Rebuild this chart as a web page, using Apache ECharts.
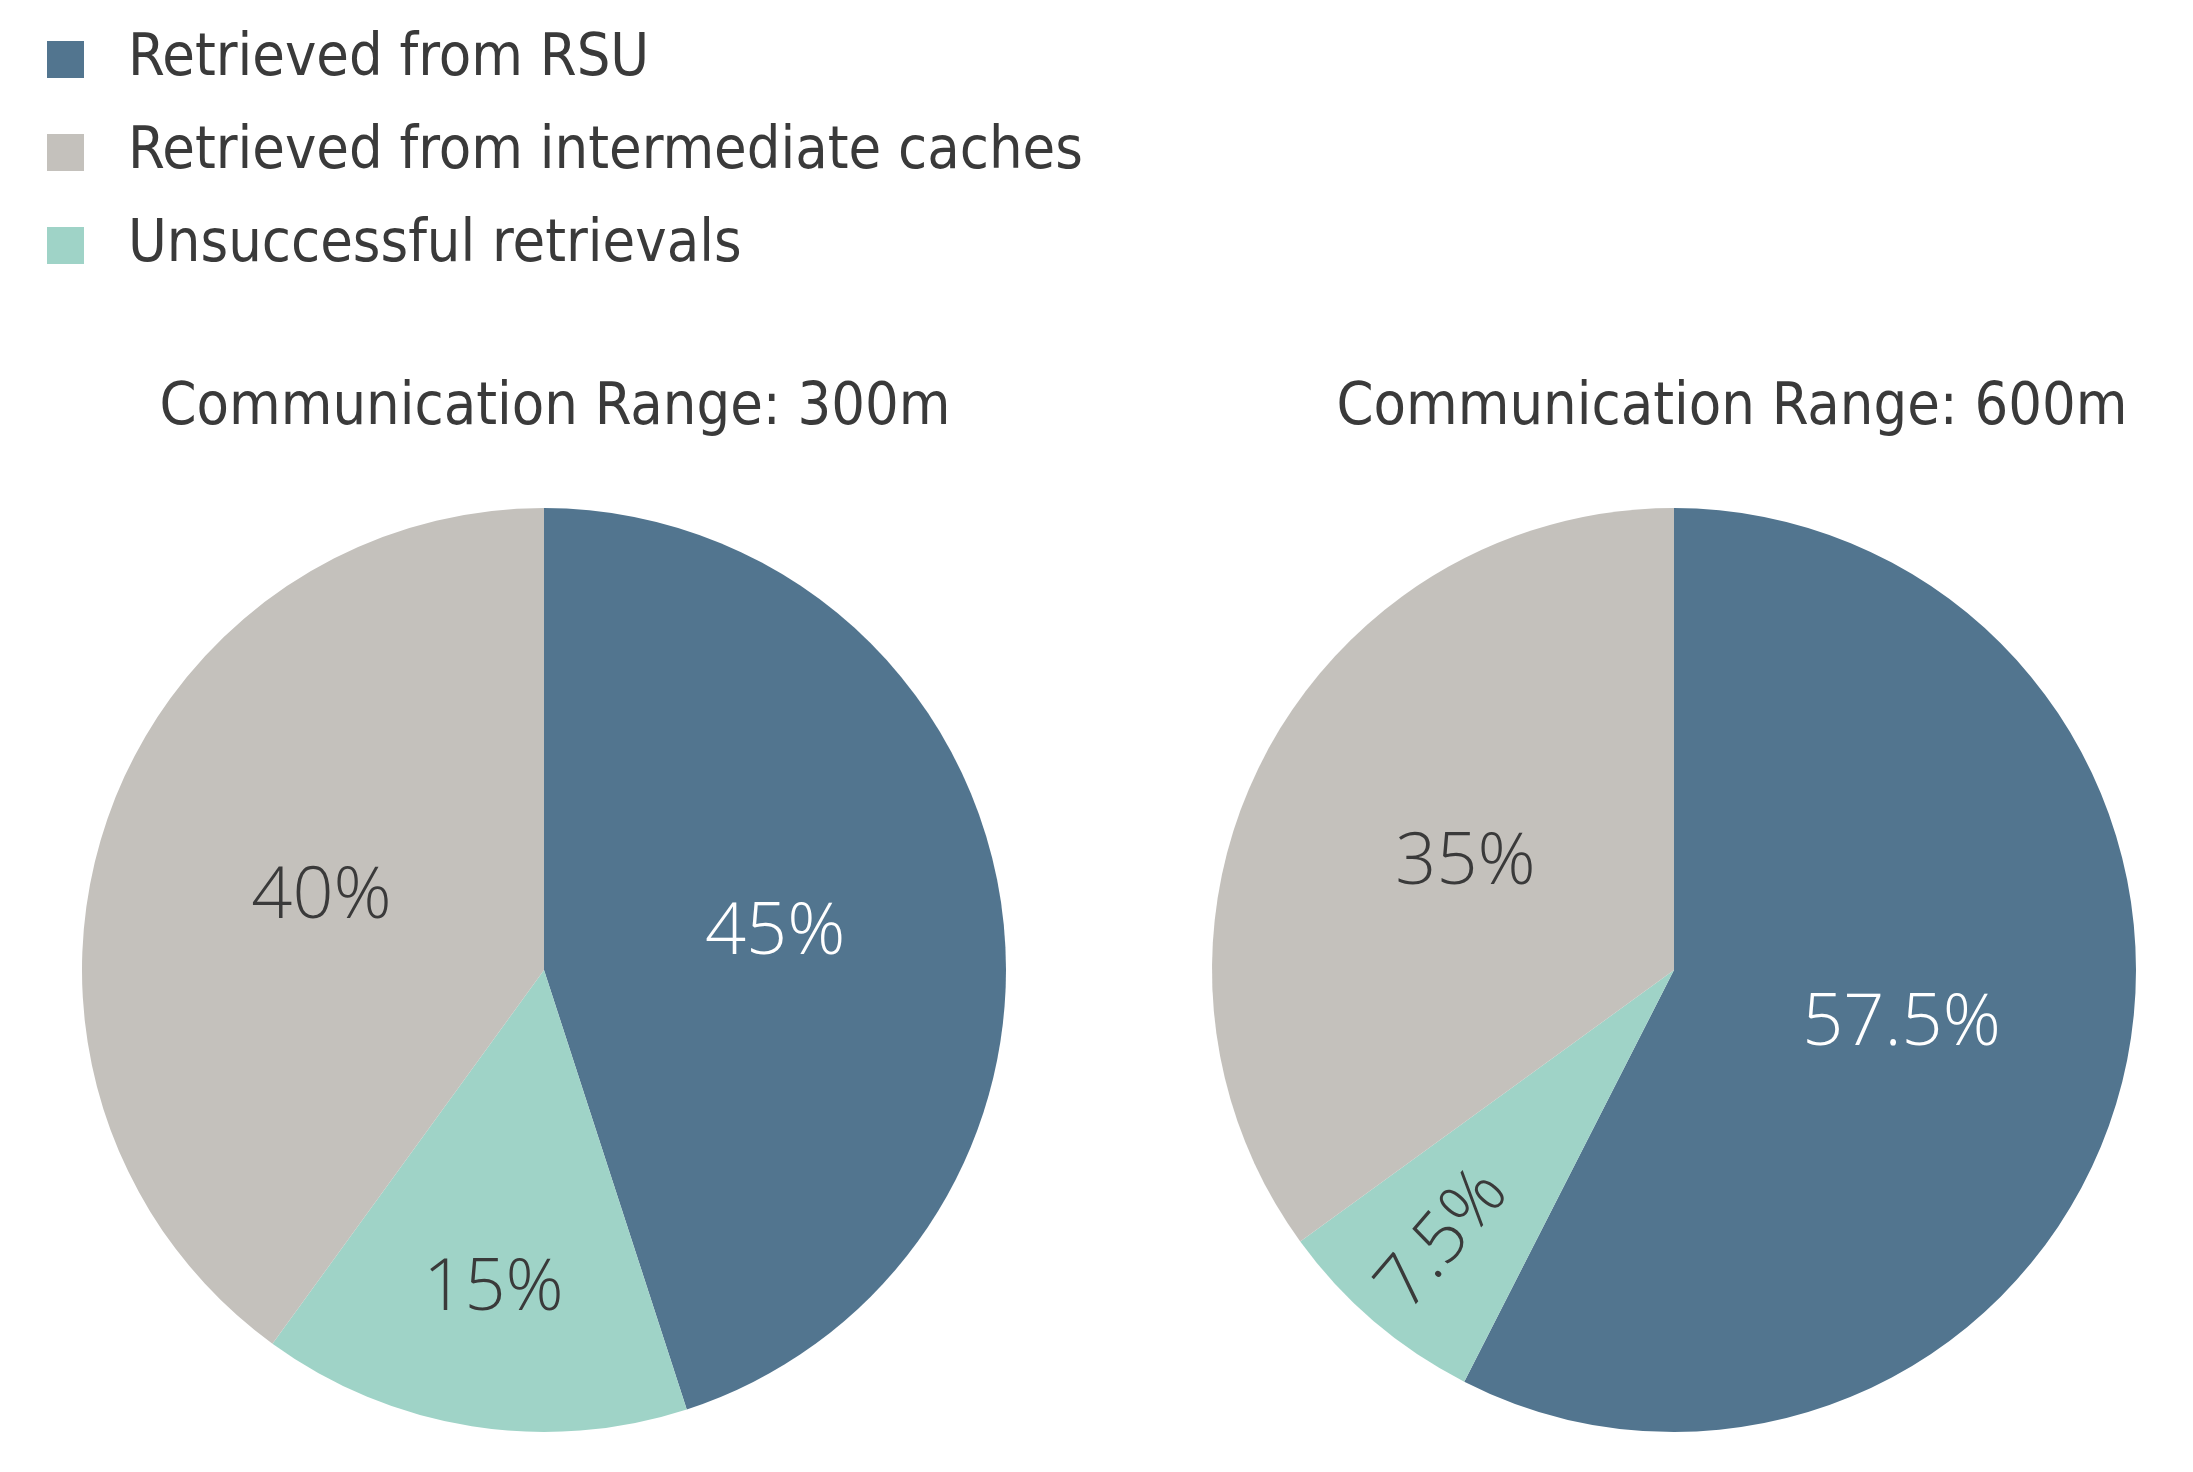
<!DOCTYPE html>
<html>
<head>
<meta charset="utf-8">
<script src="https://cdn.jsdelivr.net/npm/echarts@6/dist/echarts.min.js"></script>
<style>
html,body{margin:0;padding:0;background:#fff;}
#chart{width:2193px;height:1472px;}
</style>
</head>
<body>
<div id="chart"></div>
<script>
// ---- data ----
const categories = ['Retrieved from RSU', 'Retrieved from intermediate caches', 'Unsuccessful retrievals'];
const values300 = [45, 40, 15];
const values600 = [57.5, 35, 7.5];
const titles = ['Communication Range: 300m', 'Communication Range: 600m'];
const colors = ['#52758f', '#c4c1bc', '#9fd3c7'];
const labelColors = ['#ffffff', '#3a3a3a', '#3a3a3a'];
// clockwise drawing order from 12 o'clock: RSU, unsuccessful, intermediate
const pieOrder = [0, 2, 1];

const FONT = '"Liberation Sans Narrow", "DejaVu Sans Condensed", "Open Sans", sans-serif';
const LABEL_FONT = '"Open Sans", "Noto Sans", sans-serif';
const LABEL_SIZE = 72;

function pieData(values, small, hidden) {
  return pieOrder.map(i => ({
    name: categories[i],
    value: values[i],
    itemStyle: { color: hidden ? 'rgba(0,0,0,0)' : colors[i] },
    label: { show: small ? values[i] < 20 : values[i] >= 20, color: labelColors[i] }
  }));
}

function mainPie(values, center) {
  return {
    type: 'pie',
    center: center,
    radius: [0, 462],
    startAngle: 90,
    clockwise: true,
    silent: true,
    animation: false,
    label: {
      position: 'inside',
      formatter: '{c}%',
      fontFamily: LABEL_FONT,
      fontWeight: 300,
      fontSize: LABEL_SIZE
    },
    labelLine: { show: false },
    data: pieData(values, false, false)
  };
}

function labelPie(values, center, radius, rotateSmall) {
  return {
    type: 'pie',
    center: center,
    radius: radius,
    startAngle: 90,
    clockwise: true,
    silent: true,
    animation: false,
    legendHoverLink: false,
    label: {
      position: 'inside',
      formatter: '{c}%',
      fontFamily: LABEL_FONT,
      fontWeight: 300,
      fontSize: LABEL_SIZE,
      rotate: rotateSmall ? 'radial' : 0
    },
    labelLine: { show: false },
    data: pieData(values, true, true)
  };
}

const chart = echarts.init(document.getElementById('chart'), null, { renderer: 'canvas' });
chart.setOption({
  backgroundColor: '#ffffff',
  animation: false,
  title: [
    { text: titles[0], left: 550, top: 374, textAlign: 'center',
      textStyle: { fontFamily: FONT, fontSize: 59, fontWeight: 'normal', color: '#3a3a3a' } },
    { text: titles[1], left: 1727, top: 374, textAlign: 'center',
      textStyle: { fontFamily: FONT, fontSize: 59, fontWeight: 'normal', color: '#3a3a3a' } }
  ],
  legend: {
    orient: 'vertical',
    left: 42,
    top: 25,
    icon: 'rect',
    itemWidth: 37,
    itemHeight: 37,
    itemGap: 34,
    selectedMode: false,
    data: categories.map((c, i) => ({ name: c, itemStyle: { color: colors[i] } })),
    textStyle: {
      fontFamily: FONT,
      fontSize: 59,
      color: '#3a3a3a',
      padding: [0, 0, 0, 39]
    }
  },
  series: [
    mainPie(values300, [544, 970]),
    mainPie(values600, [1674, 970]),
    labelPie(values300, [544, 970], [280, 360], false),
    labelPie(values600, [1674, 970], [300, 404], true)
  ]
});
</script>
</body>
</html>
